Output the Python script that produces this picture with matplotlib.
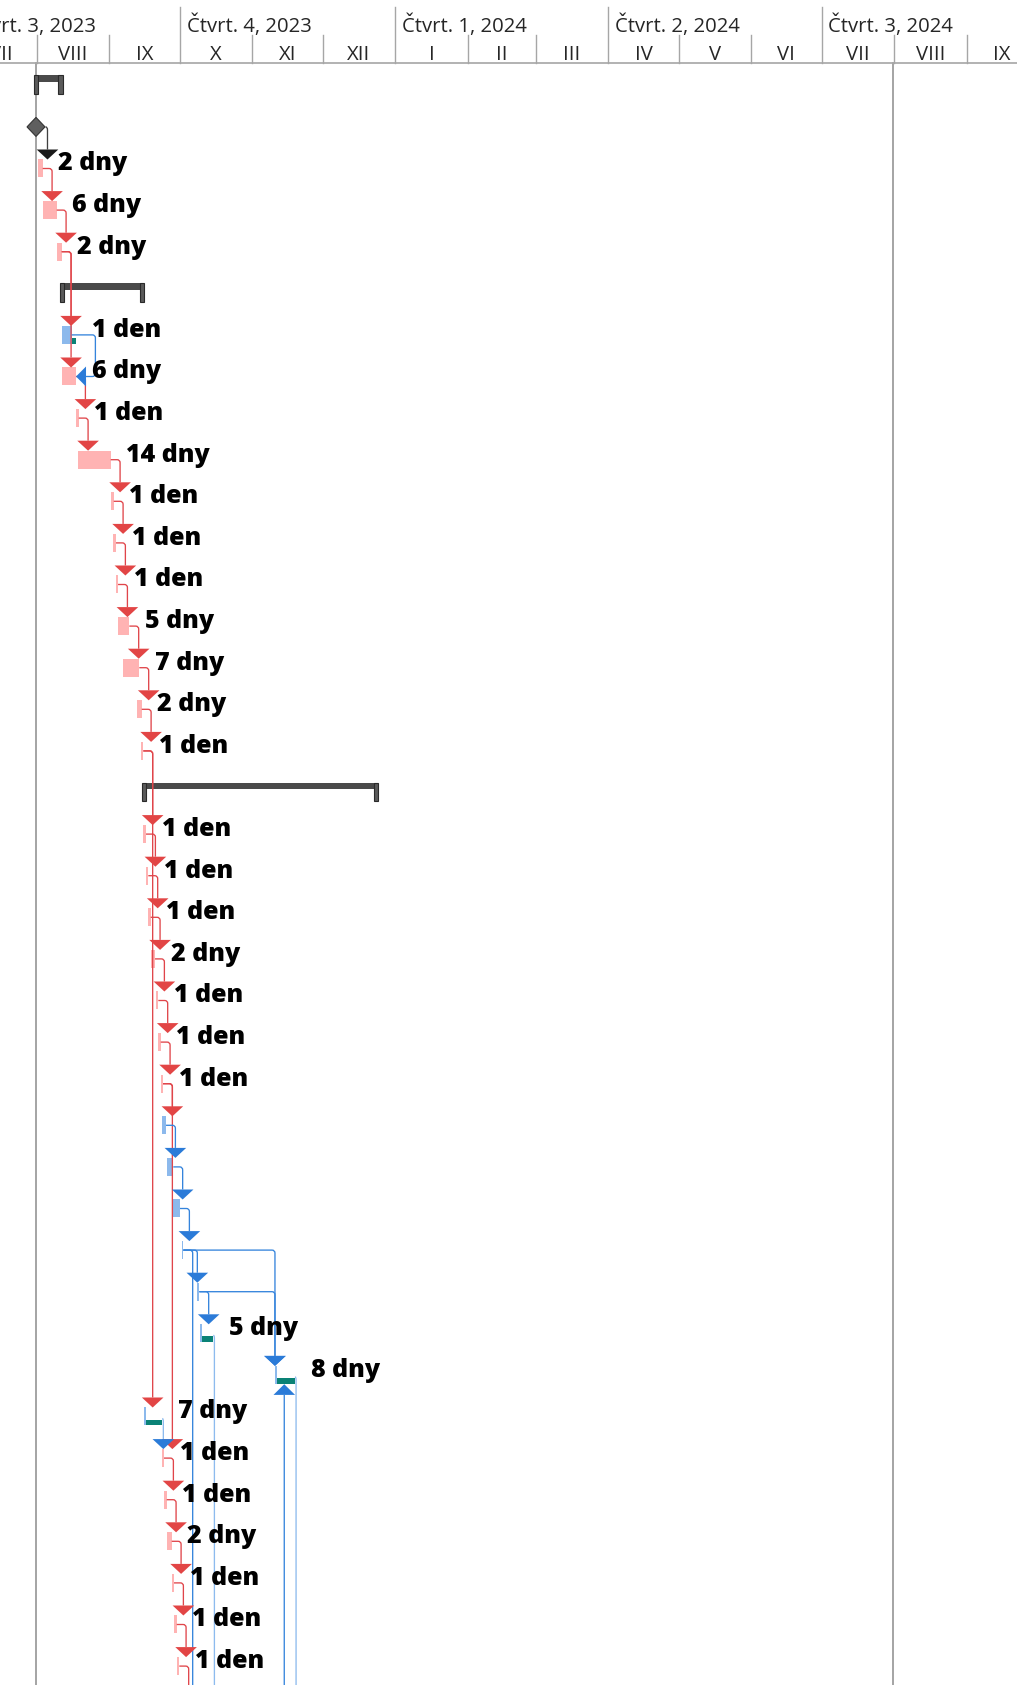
import numpy as np
import matplotlib.pyplot as plt
from matplotlib.path import Path
from matplotlib.patches import PathPatch, Polygon, Rectangle

plt.rcParams['font.family'] = ['Open Sans', 'DejaVu Sans']

# ---------------- data ----------------
BaseDate = np.datetime64('2023-08-01')          # day 0 of the timeline
FirstMonth = '2023-07'
LastMonth = '2024-10'
RomanMonths = ['I', 'II', 'III', 'IV', 'V', 'VI', 'VII', 'VIII', 'IX', 'X', 'XI', 'XII']

# grey status lines (days from BaseDate)
MarkerDays = [-0.45, 365.4]

# summary tasks
SumRow = [0, 5, 17]
SumStart = [-0.4, 10.67, 45.7]
SumEnd = [10.1, 44.82, 144.8]

# milestones
MsRow = [1]
MsDay = [-0.3]

# normal tasks (rows 39+ are below the visible area)
TaskRow = [2, 3, 4, 6, 7, 8, 9, 10, 11, 12, 13, 14, 15, 16,
           18, 19, 20, 21, 22, 23, 24, 25, 26, 27, 28, 29, 30, 31, 32,
           33, 34, 35, 36, 37, 38, 39, 40, 41, 42, 43]
TaskKind = ['crit', 'crit', 'crit', 'norm', 'crit', 'crit', 'crit', 'crit', 'crit', 'crit', 'crit', 'crit', 'crit', 'crit',
            'crit', 'crit', 'crit', 'crit', 'crit', 'crit', 'crit', 'norm', 'norm', 'norm', 'norm', 'norm', 'teal', 'teal', 'teal',
            'crit', 'crit', 'crit', 'crit', 'crit', 'crit', 'crit', 'norm', 'norm', 'norm', 'norm']
TaskStart = [0.68, 2.56, 8.54, 10.67, 10.67, 16.78, 17.76, 31.72, 32.7, 33.72, 34.83, 36.71, 42.69, 44.52,
             45.5, 46.66, 47.64, 48.66, 50.93, 51.91, 52.93, 53.62, 55.6, 58.06, 61.9, 68.56, 69.8, 101.7, 45.8,
             53.36, 54.47, 55.75, 57.63, 58.61, 59.76, 61.0, 64.0, 75.5, 110.4, 99.7]
TaskDur = [1.88, 5.98, 2.13, 4.27, 6.11, 1.15, 13.83, 1.15, 1.15, 1.0, 4.7, 7.09, 2.14, 0.98,
           1.16, 0.98, 1.02, 1.84, 0.98, 1.02, 0.98, 1.58, 2.7, 3.11, 0.68, 0.85, 5.6, 8.56, 7.8,
           0.98, 1.02, 1.88, 0.98, 1.15, 1.11, 1.0, 2.0, 3.0, 2.0, 1.97]
TaskTail = [0, 0, 0, 1.84, 0, 0, 0, 0, 0, 0, 0, 0, 0, 0,
            0, 0, 0, 0, 0, 0, 0, 0, 0, 0, 0, 0, 0, 0, 0,
            0, 0, 0, 0, 0, 0, 0, 0, 0, 0, 0]
TaskLabel = ['2 dny', '6 dny', '2 dny', '1 den', '6 dny', '1 den', '14 dny', '1 den', '1 den', '1 den', '5 dny', '7 dny', '2 dny', '1 den',
             '1 den', '1 den', '1 den', '2 dny', '1 den', '1 den', '1 den', '', '', '', '', '', '5 dny', '8 dny', '7 dny',
             '1 den', '1 den', '2 dny', '1 den', '1 den', '1 den', '', '', '', '', '']

# dependencies
LinkFrom = [1, 2, 3, 4, 4, 6, 7, 8, 9, 10, 11, 12, 13, 14, 15, 16, 16,
            18, 19, 20, 21, 22, 23, 24, 24, 25, 26, 27, 28, 28, 28, 29, 29, 30, 31, 32,
            33, 34, 35, 36, 37, 38, 43]
LinkTo = [2, 3, 4, 6, 7, 7, 8, 9, 10, 11, 12, 13, 14, 15, 16, 18, 32,
          19, 20, 21, 22, 23, 24, 25, 33, 26, 27, 28, 29, 31, 40, 30, 31, 41, 42, 33,
          34, 35, 36, 37, 38, 39, 31]
LinkType = ['FS'] * 5 + ['FF'] + ['FS'] * 37

# ---------------- layout / style ----------------
W, H, DPI = 1017, 1685, 100
X0, X1 = -15.67, 418.45
PPD = W / (X1 - X0)
ROW0, PITCH = 85.3, 41.6
HEADER = 63

PINK = '#ffb3b3'
BLUE = '#8cb9ec'
TEAL = '#0a8276'
RED_LINE = '#e0454a'
RED_TRI = '#e24545'
BLUE_LINE = '#3584dc'
LBLUE_LINE = '#8dbbee'
BLUE_TRI = '#2b7bd8'
GRID = '#a6a6a6'

STUB = {'crit': 4.0, 'norm': 4.0, 'teal': 0.45, 'ms': 4.9}
LINE_COL = {'crit': RED_LINE, 'norm': BLUE_LINE, 'teal': LBLUE_LINE, 'ms': '#404040'}
TRI_COL = {'crit': RED_TRI, 'norm': BLUE_TRI, 'teal': BLUE_TRI, 'ms': '#1a1a1a'}


def px(n):
    return n / PPD


def row_y(r):
    return ROW0 + PITCH * r


fig = plt.figure(figsize=(W / DPI, H / DPI), dpi=DPI)
ax = fig.add_axes([0, 0, 1, 1])
ax.set_xlim(X0, X1)
ax.set_ylim(H, 0)
ax.axis('off')

# ---------------- timescale header ----------------
months = np.arange(np.datetime64(FirstMonth), np.datetime64(LastMonth) + 1, dtype='datetime64[M]')
for m in months:
    d0 = (m.astype('datetime64[D]') - BaseDate) / np.timedelta64(1, 'D')
    d1 = ((m + 1).astype('datetime64[D]') - BaseDate) / np.timedelta64(1, 'D')
    mi = int(m.astype(int) % 12)
    year = int(m.astype(int) // 12 + 1970)
    ax.text((d0 + d1) / 2, 60, RomanMonths[mi], ha='center', va='baseline',
            fontsize=14.6, color='#262626', clip_on=False)
    if mi % 3 == 0:
        ax.plot([d0, d0], [7, HEADER], color=GRID, lw=1, clip_on=False)
        ax.annotate(f'Čtvrt. {mi // 3 + 1}, {year}', (d0, 31.7), xytext=(5, 0),
                    textcoords='offset points', ha='left', va='baseline',
                    fontsize=14.6, color='#262626', annotation_clip=False)
    else:
        ax.plot([d0, d0], [35, HEADER], color=GRID, lw=1, clip_on=False)
ax.plot([X0, X1], [HEADER, HEADER], color=GRID, lw=1.2)

for d in MarkerDays:
    ax.plot([d, d], [HEADER, H], color='#8c8c8c', lw=1.1, zorder=1)

# ---------------- bars ----------------
info = {}
for r, k, s, d, t, lab in zip(TaskRow, TaskKind, TaskStart, TaskDur, TaskTail, TaskLabel):
    y = row_y(r)
    e = s + d
    info[r] = dict(kind=k, start=s, end=e)
    if k == 'crit':
        ax.add_patch(Rectangle((s, y - 9), d, 18, fc=PINK, ec='none', zorder=2))
    elif k == 'norm':
        ax.add_patch(Rectangle((s, y - 9), d, 18, fc=BLUE, ec='none', zorder=2))
    else:
        mk = px(1.7)
        ax.add_patch(Rectangle((s, y - 9), mk, 18, fc=BLUE, ec='none', zorder=2))
        ax.add_patch(Rectangle((s + mk, y + 3.2), d - mk, 5.8, fc=TEAL, ec='none', zorder=2))
    if t > 0:
        ax.add_patch(Rectangle((e, y + 2.7), t, 6, fc=TEAL, ec='none', zorder=2))
    if lab:
        ax.annotate(lab, (e + t, y + 2), xytext=(11.2, 0), textcoords='offset points',
                    ha='left', va='baseline', fontsize=18, fontweight=800,
                    color='black', zorder=6)

for r, s, e in zip(SumRow, SumStart, SumEnd):
    y = row_y(r)
    ax.add_patch(Rectangle((s, y - 9.8), e - s, 6.5, fc='#4a4a4a', ec='none', zorder=2))
    for xc in (s, e):
        ax.add_patch(Rectangle((xc - px(2.2), y - 9.8), px(4.4), 18.3, fc='#5a5a5a',
                               ec='#2a2a2a', lw=0.8, zorder=2.5))

for r, dday in zip(MsRow, MsDay):
    y = row_y(r)
    info[r] = dict(kind='ms', start=dday, end=dday)
    hw = px(9)
    ax.add_patch(Polygon([(dday - hw, y), (dday, y - 9.5), (dday + hw, y), (dday, y + 9.5)],
                         closed=True, fc='#5f5f5f', ec='#333333', lw=0.8, zorder=3))

# ---------------- dependency links ----------------
M, L, C = Path.MOVETO, Path.LINETO, Path.CURVE3
TRI_HW, TRI_H, TRI_L = px(10.8), 10, px(10)

for a, b, lt in zip(LinkFrom, LinkTo, LinkType):
    pa, pb = info[a], info[b]
    k = pa['kind']
    ya, yb = row_y(a), row_y(b)
    yl = ya + 2 if k == 'teal' else ya
    x0 = pa['end'] + (px(9.5) if k == 'ms' else 0)
    lc, tc = LINE_COL[k], TRI_COL[k]
    if lt == 'FS':
        drop = max(pa['end'] + STUB[k], pb['start'])
        rx = min(px(3), max(drop - x0, 1e-6))
        if b > a:
            tip = yb - 9
            yend = tip - TRI_H
            sg = 1
        else:
            tip = yb + 9.3
            yend = tip + TRI_H + 0.7
            sg = -1
        tri = [(drop - TRI_HW, yend), (drop + TRI_HW, yend), (drop, tip)]
        verts = [(x0, yl), (drop - rx, yl), (drop, yl), (drop, yl + sg * 3), (drop, yend)]
        codes = [M, L, C, C, L]
    else:
        out = max(pa['end'], pb['end']) + STUB[k] + TRI_L
        rx = px(3)
        verts = [(x0, yl), (out - rx, yl), (out, yl), (out, yl + 3), (out, yb - 3),
                 (out, yb), (out - rx, yb), (pb['end'] + TRI_L, yb)]
        codes = [M, L, C, C, L, C, C, L]
        tri = [(pb['end'], yb), (pb['end'] + TRI_L, yb - 10), (pb['end'] + TRI_L, yb + 10)]
    ax.add_patch(PathPatch(Path(verts, codes), fc='none', ec=lc, lw=0.95, zorder=3))
    ax.add_patch(Polygon(tri, closed=True, fc=tc, ec='none', zorder=4))

fig.savefig('out.png', dpi=DPI)
